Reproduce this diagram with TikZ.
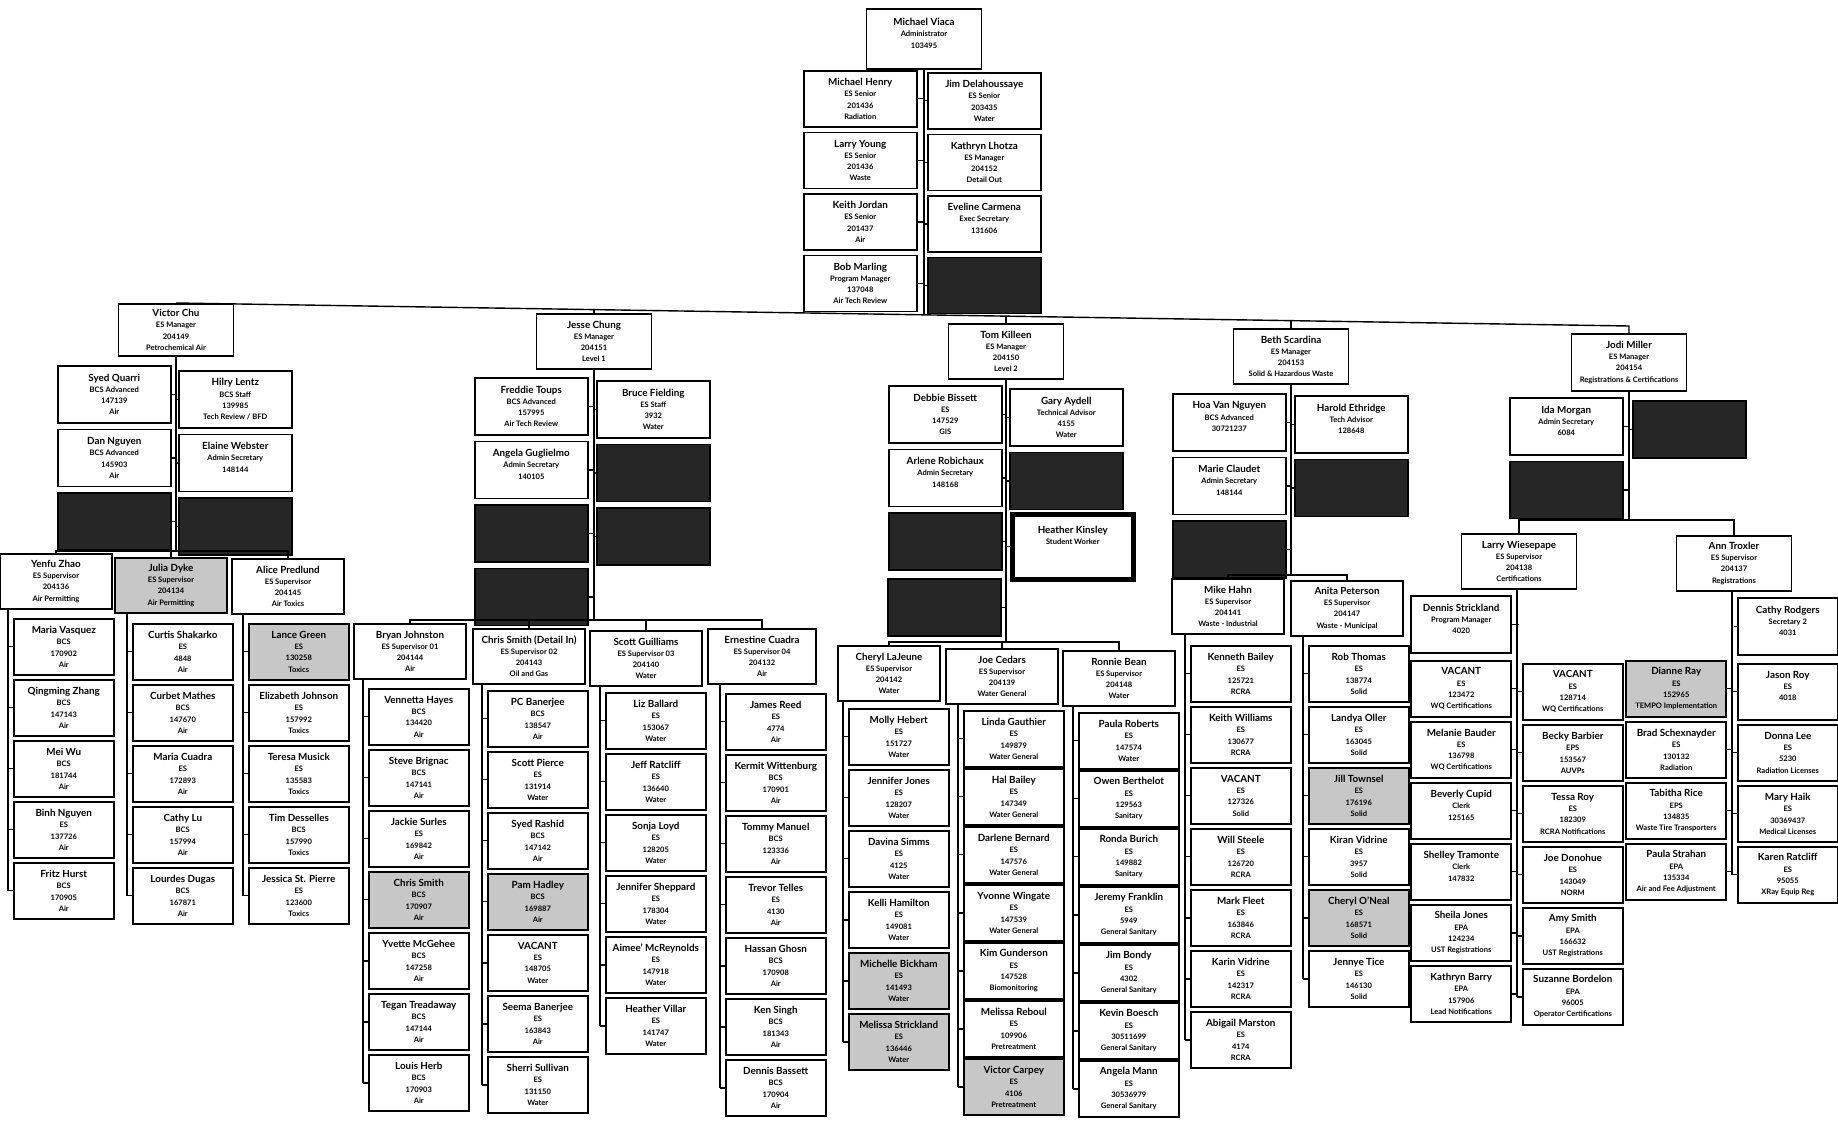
\documentclass[tikz,border=0pt]{standalone}
\usepackage{fontspec}
\setsansfont{Lato}
\usetikzlibrary{positioning,calc}

\tikzset{
  pbox/.style={draw, line width=0.9pt, fill=white, align=center, inner sep=1pt,
    font=\sffamily\bfseries\fontsize{4.3}{6.4}\selectfont},
  mgr/.style={pbox, minimum width=2.3cm, minimum height=1.1cm, anchor=north},
  staff/.style={pbox, minimum width=2.26cm, minimum height=1.14cm},
  sup/.style={pbox, minimum width=2.24cm, minimum height=1.1cm, anchor=north},
  emp/.style={pbox, minimum width=2cm, minimum height=1.12cm},
  wht/.style={},
  dark/.style={fill=black!85},
  stip/.style={fill=black!22},
  link/.style={line width=0.8pt}
}

\newcommand{\nm}[1]{{\fontsize{5.6}{6.4}\selectfont #1}}

% employees to the right of a supervisor's line
\newcommand{\subcol}[6][61]{%
  \foreach \s/\t [count=\i] in {#6} {
    \node[emp, style=\s, anchor=north west] (#2\i) at ({#3+5},{#4+(\i-1)*#1}) {\t};
    \draw[link] (#2\i.west) -- ++(-5,0) coordinate (#2end);
  }
  \draw[link] (#5.south -| #2end) -- (#2end);
}
% employees to the left of a supervisor's line
\newcommand{\subcolL}[5]{%
  \foreach \s/\t [count=\i] in {#5} {
    \node[emp, style=\s, anchor=north east] (#1\i) at ({#2-5},{#3+(\i-1)*61}) {\t};
    \draw[link] (#1\i.east) -- ++(5,0) coordinate (#1end);
  }
  \draw[link] (#4.south -| #1end) -- (#1end);
}

\begin{document}
\begin{tikzpicture}[x=0.02cm, y=-0.02cm]
\useasboundingbox (0,0) rectangle (1838,1122);

% administrator
\node[mgr, minimum height=1.2cm] (mv) at (924,8) {\nm{Michael Viaca}\\Administrator\\103495\\\mbox{}};
\node[staff, minimum height=1.12cm, anchor=north west] (mh) at (803,70) {\nm{Michael Henry}\\ES Senior\\201436\\Radiation};
\node[staff, minimum height=1.12cm, below=0.08cm of mh] (ly) {\nm{Larry Young}\\ES Senior\\201436\\Waste};
\node[staff, minimum height=1.12cm, below=0.08cm of ly] (kj) {\nm{Keith Jordan}\\ES Senior\\201437\\Air};
\node[staff, minimum height=1.12cm, below=0.08cm of kj] (bm) {\nm{Bob Marling}\\Program Manager\\137048\\Air Tech Review};
\node[staff, minimum height=1.12cm, anchor=north west] (jdh) at (927,72) {\nm{Jim Delahoussaye}\\ES Senior\\203435\\Water};
\node[staff, minimum height=1.12cm, below=0.08cm of jdh] (kl) {\nm{Kathryn Lhotza}\\ES Manager\\204152\\Detail Out};
\node[staff, minimum height=1.12cm, below=0.08cm of kl] (evc) {\nm{Eveline Carmena}\\Exec Secretary\\131606\\\mbox{}};
\node[staff, minimum height=1.12cm, dark, below=0.08cm of evc] (mvd) {};
\foreach \b in {mh,ly,kj,bm} \draw[link] (\b.east) -- (\b.east -| mv.south);
\foreach \b in {jdh,kl,evc,mvd} \draw[link] (\b.west) -- (\b.west -| mv.south);

% Victor Chu
\node[mgr, minimum height=1.04cm] (vc) at (176,303) {\nm{Victor Chu}\\ES Manager\\204149\\Petrochemical Air};
\node[staff, anchor=north west] (sq) at (57,365) {\nm{Syed Quarri}\\BCS Advanced\\147139\\Air};
\node[staff, below=0.1cm of sq] (dn) {\nm{Dan Nguyen}\\BCS Advanced\\145903\\Air};
\node[staff, dark, below=0.1cm of dn] (vcd1) {};
\node[staff, anchor=north west] (hl) at (178,370) {\nm{Hilry Lentz}\\BCS Staff\\139985\\Tech Review / BFD};
\node[staff, below=0.1cm of hl] (ew) {\nm{Elaine Webster}\\Admin Secretary\\148144\\\mbox{}};
\node[staff, dark, below=0.1cm of ew] (vcd2) {};
\foreach \b in {sq,dn,vcd1} \draw[link] (\b.east) -- (\b.east -| vc.south);
\foreach \b in {hl,ew,vcd2} \draw[link] (\b.west) -- (\b.west -| vc.south);
\coordinate (vcbar) at (176,551);
\draw[link] (vc.south) -- (vcbar);

\node[sup] (yz) at (56,553) {\nm{Yenfu Zhao}\\ES Supervisor\\204136\\Air Permitting};
\node[sup, stip] (jdy) at (171,557) {\nm{Julia Dyke}\\ES Supervisor\\204134\\Air Permitting};
\node[sup] (ap) at (288,558) {\nm{Alice Predlund}\\ES Supervisor\\204145\\Air Toxics};
\draw[link] (yz.north) |- (vcbar) -| (ap.north);
\draw[link] (jdy.north) -- (jdy.north |- vcbar);

\subcol{yzc}{8}{618}{yz}{wht/{\nm{Maria Vasquez}\\BCS\\170902\\Air},
  wht/{\nm{Qingming Zhang}\\BCS\\147143\\Air}, wht/{\nm{Mei Wu}\\BCS\\181744\\Air},
  wht/{\nm{Binh Nguyen}\\ES\\137726\\Air}, wht/{\nm{Fritz Hurst}\\BCS\\170905\\Air}}
\subcol{jdc}{127}{623}{jdy}{wht/{\nm{Curtis Shakarko}\\ES\\4848\\Air},
  wht/{\nm{Curbet Mathes}\\BCS\\147670\\Air}, wht/{\nm{Maria Cuadra}\\ES\\172893\\Air},
  wht/{\nm{Cathy Lu}\\BCS\\157994\\Air}, wht/{\nm{Lourdes Dugas}\\BCS\\167871\\Air}}
\subcol{apc}{243}{623}{ap}{stip/{\nm{Lance Green}\\ES\\130258\\Toxics},
  wht/{\nm{Elizabeth Johnson}\\ES\\157992\\Toxics}, wht/{\nm{Teresa Musick}\\ES\\135583\\Toxics},
  wht/{\nm{Tim Desselles}\\BCS\\157990\\Toxics}, wht/{\nm{Jessica St. Pierre}\\ES\\123600\\Toxics}}

% Jesse Chung
\node[mgr] (jc) at (594,313) {\nm{Jesse Chung}\\ES Manager\\204151\\Level 1};
\node[staff, anchor=north west] (ft) at (474,377) {\nm{Freddie Toups}\\BCS Advanced\\157995\\Air Tech Review};
\node[staff, below=0.1cm of ft] (ag) {\nm{Angela Guglielmo}\\Admin Secretary\\140105\\\mbox{}};
\node[staff, dark, below=0.1cm of ag] (jcd1) {};
\node[staff, dark, below=0.1cm of jcd1] (jcd2) {};
\node[staff, anchor=north west] (bf) at (596,380) {\nm{Bruce Fielding}\\ES Staff\\3932\\Water};
\node[staff, dark, below=0.1cm of bf] (jcd3) {};
\node[staff, dark, below=0.1cm of jcd3] (jcd4) {};
\foreach \b in {ft,ag,jcd1,jcd2} \draw[link] (\b.east) -- (\b.east -| jc.south);
\foreach \b in {bf,jcd3,jcd4} \draw[link] (\b.west) -- (\b.west -| jc.south);
\coordinate (jcbar) at (594,620);
\draw[link] (jc.south) -- (jcbar);

\node[sup] (bj) at (410,623) {\nm{Bryan Johnston}\\ES Supervisor 01\\204144\\Air};
\node[sup] (cs) at (529,628) {\nm{Chris Smith (Detail In)}\\ES Supervisor 02\\204143\\Oil and Gas};
\node[sup] (sg) at (646,630) {\nm{Scott Guilliams}\\ES Supervisor 03\\204140\\Water};
\node[sup, minimum width=2.16cm] (ec) at (762,628) {\nm{Ernestine Cuadra}\\ES Supervisor 04\\204132\\Air};
\draw[link] (bj.north) |- (jcbar) -| (ec.north);
\foreach \b in {cs,sg} \draw[link] (\b.north) -- (\b.north |- jcbar);

\subcol{bjc}{363}{688}{bj}{wht/{\nm{Vennetta Hayes}\\BCS\\134420\\Air},
  wht/{\nm{Steve Brignac}\\BCS\\147141\\Air}, wht/{\nm{Jackie Surles}\\ES\\169842\\Air},
  stip/{\nm{Chris Smith}\\BCS\\170907\\Air}, wht/{\nm{Yvette McGehee}\\BCS\\147258\\Air},
  wht/{\nm{Tegan Treadaway}\\BCS\\147144\\Air}, wht/{\nm{Louis Herb}\\BCS\\170903\\Air}}
\subcol{csc}{482}{690}{cs}{wht/{\nm{PC Banerjee}\\BCS\\138547\\Air},
  wht/{\nm{Scott Pierce}\\ES\\131914\\Water}, wht/{\nm{Syed Rashid}\\BCS\\147142\\Air},
  stip/{\nm{Pam Hadley}\\BCS\\169887\\Air}, wht/{\nm{VACANT}\\ES\\148705\\Water},
  wht/{\nm{Seema Banerjee}\\ES\\163843\\Air}, wht/{\nm{Sherri Sullivan}\\ES\\131150\\Water}}
\subcol{sgc}{600}{692}{sg}{wht/{\nm{Liz Ballard}\\ES\\153067\\Water},
  wht/{\nm{Jeff Ratcliff}\\ES\\136640\\Water}, wht/{\nm{Sonja Loyd}\\ES\\128205\\Water},
  wht/{\nm{Jennifer Sheppard}\\ES\\178304\\Water}, wht/{\nm{Aimee' McReynolds}\\ES\\147918\\Water},
  wht/{\nm{Heather Villar}\\ES\\141747\\Water}}
\subcol{ecc}{720}{693}{ec}{wht/{\nm{James Reed}\\ES\\4774\\Air},
  wht/{\nm{Kermit Wittenburg}\\BCS\\170901\\Air}, wht/{\nm{Tommy Manuel}\\BCS\\123336\\Air},
  wht/{\nm{Trevor Telles}\\ES\\4130\\Air}, wht/{\nm{Hassan Ghosn}\\BCS\\170908\\Air},
  wht/{\nm{Ken Singh}\\BCS\\181343\\Air}, wht/{\nm{Dennis Bassett}\\BCS\\170904\\Air}}

% Tom Killeen
\node[mgr] (tk) at (1006,323) {\nm{Tom Killeen}\\ES Manager\\204150\\Level 2};
\node[staff, anchor=north west] (dbi) at (888,385) {\nm{Debbie Bissett}\\ES\\147529\\GIS};
\node[staff, below=0.1cm of dbi] (ar) {\nm{Arlene Robichaux}\\Admin Secretary\\148168\\\mbox{}};
\node[staff, dark, below=0.1cm of ar] (tkd1) {};
\node[staff, dark, anchor=north west] (tkd2) at (887,578) {};
\node[staff, anchor=north west] (ga) at (1009,388) {\nm{Gary Aydell}\\Technical Advisor\\4155\\Water};
\node[staff, dark, below=0.1cm of ga] (tkd3) {};
\node[pbox, line width=2.6pt, minimum width=2.42cm, minimum height=1.3cm, anchor=north west] (hk)
  at (1010,512) {\nm{Heather Kinsley}\\Student Worker\\\mbox{}\\\mbox{}};
\foreach \b in {dbi,ar,tkd1,tkd2} \draw[link] (\b.east) -- (\b.east -| tk.south);
\foreach \b in {ga,tkd3,hk} \draw[link] (\b.west) -- (\b.west -| tk.south);
\coordinate (tkbar) at (1006,642);
\draw[link] (tk.south) -- (tkbar);

\node[sup, minimum width=2.04cm] (cj) at (889,645) {\nm{Cheryl LaJeune}\\ES Supervisor\\204142\\Water};
\node[sup] (jce) at (1002,648) {\nm{Joe Cedars}\\ES Supervisor\\204139\\Water General};
\node[sup] (rb) at (1119,650) {\nm{Ronnie Bean}\\ES Supervisor\\204148\\Water};
\draw[link] (cj.north) |- (tkbar) -| (rb.north);
\draw[link] (jce.north) -- (jce.north |- tkbar);

\subcol{cjc}{843}{708}{cj}{wht/{\nm{Molly Hebert}\\ES\\151727\\Water},
  wht/{\nm{Jennifer Jones}\\ES\\128207\\Water}, wht/{\nm{Davina Simms}\\ES\\4125\\Water},
  wht/{\nm{Kelli Hamilton}\\ES\\149081\\Water}, stip/{\nm{Michelle Bickham}\\ES\\141493\\Water},
  stip/{\nm{Melissa Strickland}\\ES\\136446\\Water}}
\subcol[58]{jcec}{958}{710}{jce}{wht/{\nm{Linda Gauthier}\\ES\\149879\\Water General},
  wht/{\nm{Hal Bailey}\\ES\\147349\\Water General}, wht/{\nm{Darlene Bernard}\\ES\\147576\\Water General},
  wht/{\nm{Yvonne Wingate}\\ES\\147539\\Water General}, wht/{\nm{Kim Gunderson}\\ES\\147528\\Biomonitoring},
  wht/{\nm{Melissa Reboul}\\ES\\109906\\Pretreatment}, stip/{\nm{Victor Carpey}\\ES\\4106\\Pretreatment}}
\subcol[58]{rbc}{1073}{712}{rb}{wht/{\nm{Paula Roberts}\\ES\\147574\\Water},
  wht/{\nm{Owen Berthelot}\\ES\\129563\\Sanitary}, wht/{\nm{Ronda Burich}\\ES\\149882\\Sanitary},
  wht/{\nm{Jeremy Franklin}\\ES\\5949\\General Sanitary}, wht/{\nm{Jim Bondy}\\ES\\4302\\General Sanitary},
  wht/{\nm{Kevin Boesch}\\ES\\30511699\\General Sanitary}, wht/{\nm{Angela Mann}\\ES\\30536979\\General Sanitary}}

% Beth Scardina
\node[mgr] (bs) at (1291,328) {\nm{Beth Scardina}\\ES Manager\\204153\\Solid \& Hazardous Waste};
\node[staff, anchor=north west] (hvn) at (1172,393) {\nm{Hoa Van Nguyen}\\BCS Advanced\\30721237\\\mbox{}};
\node[staff, below=0.1cm of hvn] (mcl) {\nm{Marie Claudet}\\Admin Secretary\\148144\\\mbox{}};
\node[staff, dark, below=0.1cm of mcl] (bsd1) {};
\node[staff, anchor=north west] (he) at (1294,395) {\nm{Harold Ethridge}\\Tech Advisor\\128648\\\mbox{}};
\node[staff, dark, below=0.1cm of he] (bsd2) {};
\foreach \b in {hvn,mcl,bsd1} \draw[link] (\b.east) -- (\b.east -| bs.south);
\foreach \b in {he,bsd2} \draw[link] (\b.west) -- (\b.west -| bs.south);
\coordinate (bsbar) at (1291,575);
\draw[link] (bs.south) -- (bsbar);

\node[sup] (mhh) at (1228,578) {\nm{Mike Hahn}\\ES Supervisor\\204141\\Waste - Industrial};
\node[sup] (apt) at (1347,580) {\nm{Anita Peterson}\\ES Supervisor\\204147\\Waste - Municipal};
\draw[link] (mhh.north) |- (bsbar) -| (apt.north);

\subcol{mhc}{1185}{645}{mhh}{wht/{\nm{Kenneth Bailey}\\ES\\125721\\RCRA},
  wht/{\nm{Keith Williams}\\ES\\130677\\RCRA}, wht/{\nm{VACANT}\\ES\\127326\\Solid},
  wht/{\nm{Will Steele}\\ES\\126720\\RCRA}, wht/{\nm{Mark Fleet}\\ES\\163846\\RCRA},
  wht/{\nm{Karin Vidrine}\\ES\\142317\\RCRA}, wht/{\nm{Abigail Marston}\\ES\\4174\\RCRA}}
\subcol{apc2}{1303}{645}{apt}{wht/{\nm{Rob Thomas}\\ES\\138774\\Solid},
  wht/{\nm{Landya Oller}\\ES\\163045\\Solid}, stip/{\nm{Jill Townsel}\\ES\\176196\\Solid},
  wht/{\nm{Kiran Vidrine}\\ES\\3957\\Solid}, stip/{\nm{Cheryl O'Neal}\\ES\\168571\\Solid},
  wht/{\nm{Jennye Tice}\\ES\\146130\\Solid}}

% Jodi Miller
\node[mgr, minimum height=1.14cm] (jm) at (1629,333) {\nm{Jodi Miller}\\ES Manager\\204154\\Registrations \& Certifications};
\node[staff, anchor=north west] (im) at (1509,397) {\nm{Ida Morgan}\\Admin Secretary\\6084\\\mbox{}};
\node[staff, dark, below=0.1cm of im] (jmd1) {};
\node[staff, dark, anchor=north west] (jmd2) at (1632,400) {};
\foreach \b in {im,jmd1} \draw[link] (\b.east) -- (\b.east -| jm.south);
\draw[link] (jmd2.west) -- (jmd2.west -| jm.south);
\coordinate (jmbar) at (1629,520);
\draw[link] (jm.south) -- (jmbar);

\node[sup, minimum width=2.3cm] (lw) at (1519,533) {\nm{Larry Wiesepape}\\ES Supervisor\\204138\\Certifications};
\node[sup, minimum width=2.3cm] (ant) at (1734,535) {\nm{Ann Troxler}\\ES Supervisor\\204137\\Registrations};
\draw[link] (lw.north) |- (jmbar) -| (ant.north);

\node[emp, anchor=north east, minimum height=1.14cm] (ds) at (1512,595) {\nm{Dennis Strickland}\\Program Manager\\4020\\\mbox{}};
\draw[link] (ds.east) -- (ds.east -| lw.south);
\subcolL{lwl}{1517}{660}{lw}{wht/{\nm{VACANT}\\ES\\123472\\WQ Certifications},
  wht/{\nm{Melanie Bauder}\\ES\\136798\\WQ Certifications}, wht/{\nm{Beverly Cupid}\\Clerk\\125165\\\mbox{}},
  wht/{\nm{Shelley Tramonte}\\Clerk\\147832\\\mbox{}}, wht/{\nm{Sheila Jones}\\EPA\\124234\\UST Registrations},
  wht/{\nm{Kathryn Barry}\\EPA\\157906\\Lead Notifications}}
\subcol{lwr}{1517}{663}{lw}{wht/{\nm{VACANT}\\ES\\128714\\WQ Certifications},
  wht/{\nm{Becky Barbier}\\EPS\\153567\\AUVPs}, wht/{\nm{Tessa Roy}\\ES\\182309\\RCRA Notifications},
  wht/{\nm{Joe Donohue}\\ES\\143049\\NORM}, wht/{\nm{Amy Smith}\\EPA\\166632\\UST Registrations},
  wht/{\nm{Suzanne Bordelon}\\EPA\\96005\\Operator Certifications}}

\node[emp, anchor=north west, minimum height=1.14cm] (cr) at (1737,597) {\nm{Cathy Rodgers}\\Secretary 2\\4031\\\mbox{}};
\draw[link] (cr.west) -- (cr.west -| ant.south);
\subcolL{antl}{1732}{660}{ant}{stip/{\nm{Dianne Ray}\\ES\\152965\\TEMPO Implementation},
  wht/{\nm{Brad Schexnayder}\\ES\\130132\\Radiation}, wht/{\nm{Tabitha Rice}\\EPS\\134835\\Waste Tire Transporters},
  wht/{\nm{Paula Strahan}\\EPA\\135334\\Air and Fee Adjustment}}
\subcol{antr}{1732}{663}{ant}{wht/{\nm{Jason Roy}\\ES\\4018\\\mbox{}},
  wht/{\nm{Donna Lee}\\ES\\5230\\Radiation Licenses}, wht/{\nm{Mary Haik}\\ES\\30369437\\Medical Licenses},
  wht/{\nm{Karen Ratcliff}\\ES\\95055\\XRay Equip Reg}}

% managers' bus
\coordinate (busR) at ($(jm.north)+(0,-7)$);
\draw[link] (vc.north) -- (busR) -- (jm.north);
\path ($(vc.north)!0.5148!(busR)$) coordinate (mvb);
\path ($(vc.north)!0.2877!(busR)$) coordinate (jcb);
\path ($(vc.north)!0.5712!(busR)$) coordinate (tkb);
\path ($(vc.north)!0.7674!(busR)$) coordinate (bsb);
\draw[link] (mv.south) -- (mv.south |- mvb);
\draw[link] (jc.north) -- (jc.north |- jcb);
\draw[link] (tk.north) -- (tk.north |- tkb);
\draw[link] (bs.north) -- (bs.north |- bsb);
\end{tikzpicture}
\end{document}
